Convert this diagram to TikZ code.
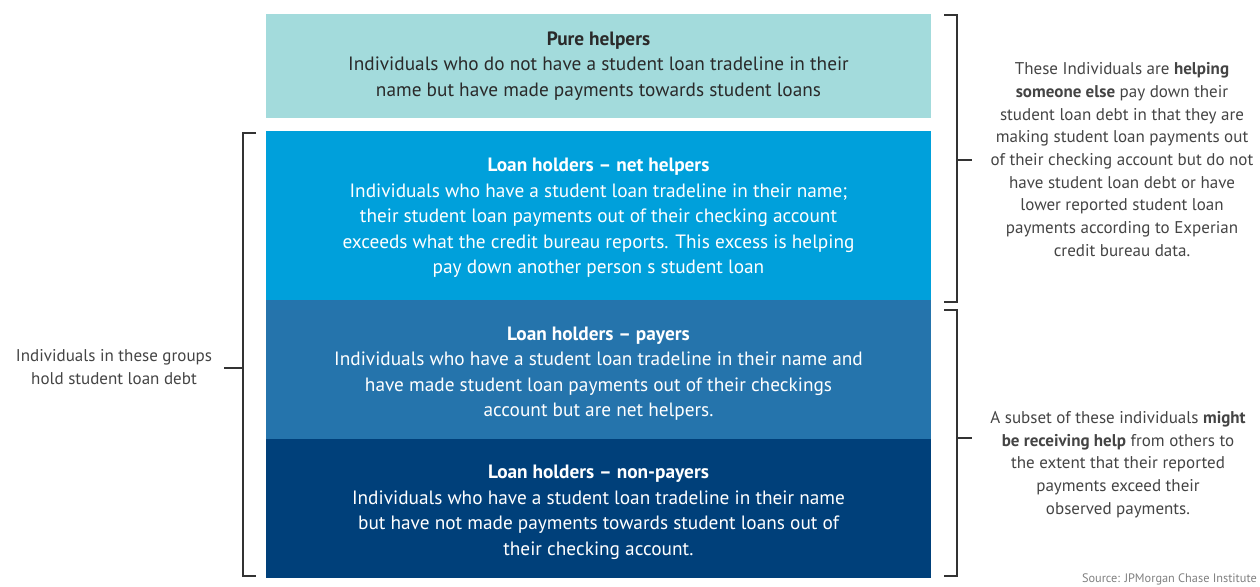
\documentclass[tikz,border=0pt]{standalone}
\usepackage{fontspec}
\setmainfont{PT Sans}
\definecolor{cpure}{HTML}{A3DBDC}
\definecolor{cnet}{HTML}{00A0DB}
\definecolor{cpay}{HTML}{2574AC}
\definecolor{cnon}{HTML}{00407A}
\definecolor{ctext}{HTML}{444444}
\definecolor{cdark}{HTML}{2A2A2A}
\definecolor{cbr}{HTML}{333333}
\tikzset{
  band/.style={draw=none,inner sep=0pt},
  bandtext/.style={align=center,font=\fontsize{19.3}{25.5}\selectfont,inner sep=0pt},
  note/.style={align=center,font=\fontsize{17}{22.7}\selectfont,text=ctext,inner sep=0pt},
  brk/.style={draw=cbr,line width=1.2pt},
}
\begin{document}
\begin{tikzpicture}[x=1pt,y=-1pt]
\useasboundingbox (0,0) rectangle (1260,586);
% bands
\fill[cpure] (266,14) rectangle (931,118);
\fill[cnet] (266,131) rectangle (931,300);
\fill[cpay] (266,300) rectangle (931,439);
\fill[cnon] (266,439) rectangle (931,578);
\node[bandtext,text=cdark] (pure) at (598.5,65.7) {\textbf{Pure helpers}\\Individuals who do not have a student loan tradeline in their\\name but have made payments towards student loans};
\node[bandtext,text=white] (net) at (598.5,218) {\textbf{Loan holders – net helpers}\\Individuals who have a student loan tradeline in their name;\\their student loan payments out of their checking account\\exceeds what the credit bureau reports. This excess is helping\\pay down another person s student loan};
\node[bandtext,text=white] (pay) at (598.5,373.7) {\textbf{Loan holders – payers}\\Individuals who have a student loan tradeline in their name and\\have made student loan payments out of their checkings\\account but are net helpers.};
\node[bandtext,text=white] (non) at (598.5,512.5) {\textbf{Loan holders – non-payers}\\Individuals who have a student loan tradeline in their name\\but have not made payments towards student loans out of\\their checking account.};
% right brackets
\coordinate (r1a) at (944,15);
\coordinate (r1b) at (944,302);
\coordinate (r1m) at (972,160);
\draw[brk] (r1a) -- ++(13,0) |- (r1b);
\draw[brk] (957,160) -- (r1m);
\coordinate (r2a) at (944,310);
\coordinate (r2b) at (944,576);
\coordinate (r2m) at (972,438);
\draw[brk] (r2a) -- ++(13,0) |- (r2b);
\draw[brk] (957,438) -- (r2m);
% left bracket
\coordinate (la) at (256,133);
\coordinate (lb) at (256,576);
\coordinate (lm) at (224,368);
\draw[brk] (la) -- ++(-13,0) |- (lb);
\draw[brk] (243,368) -- (lm);
% notes
\node[note] (n1) at (1122,159.5) {These Individuals are \textbf{helping}\\\textbf{someone else} pay down their\\student loan debt in that they are\\making student loan payments out\\of their checking account but do not\\have student loan debt or have\\lower reported student loan\\payments according to Experian\\credit bureau data.};
\node[note] (n2) at (1118,464.5) {A subset of these individuals \textbf{might}\\\textbf{be receiving help} from others to\\the extent that their reported\\payments exceed their\\observed payments.};
\node[note] (n3) at (114,367) {Individuals in these groups\\hold student loan debt};
\node[anchor=south east,inner sep=0pt,font=\fontsize{12.3}{14}\selectfont,text=gray] (src) at (1257,585) {Source: JPMorgan Chase Institute};
\end{tikzpicture}
\end{document}
